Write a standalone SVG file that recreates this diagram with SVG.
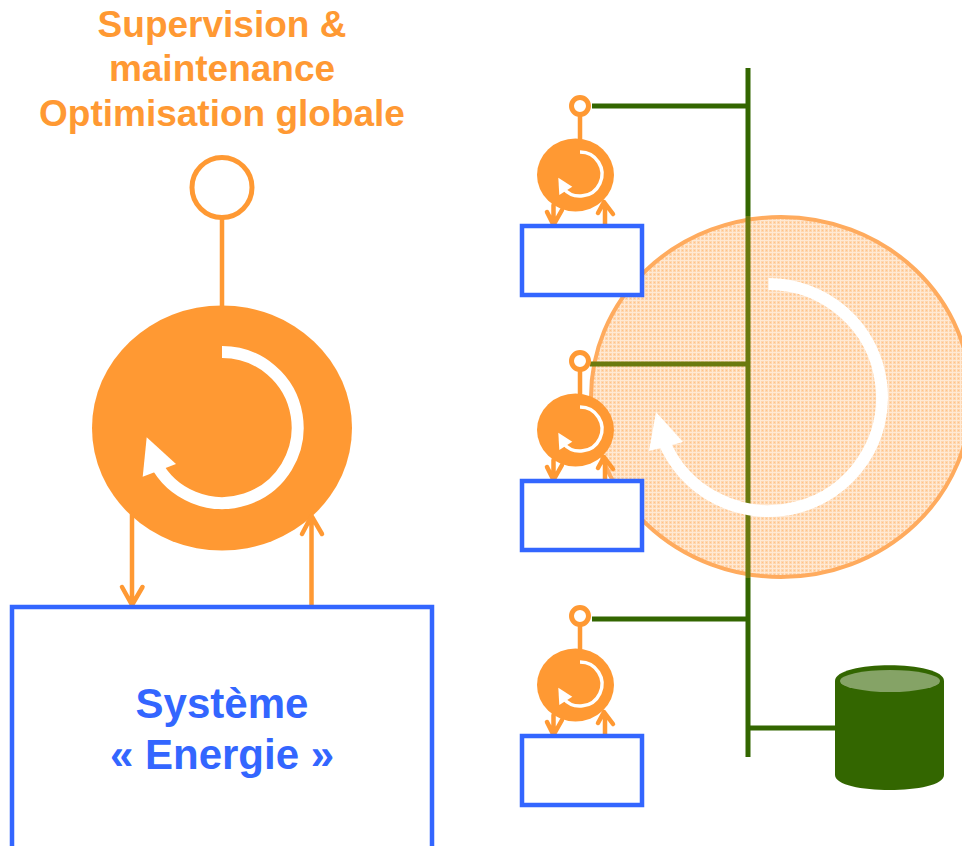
<svg xmlns="http://www.w3.org/2000/svg" width="962" height="846" viewBox="0 0 962 846">
<style>
.t{font-family:"Liberation Sans",Arial,sans-serif;font-weight:bold;text-anchor:middle}
.or{fill:#FF9933}.bl{fill:#3366FF}
.box{fill:#fff;stroke:#3366FF;stroke-width:4.500}
.ol{fill:none;stroke:#FF9933;stroke-width:4.500;stroke-linecap:round;stroke-linejoin:round}
.gr{fill:none;stroke:#336600;stroke-width:5}
.ov{fill:none;stroke:#6B7A0F;stroke-width:5}
</style>
<defs>
<pattern id="dots" width="4" height="4" patternUnits="userSpaceOnUse">
<rect width="4" height="4" fill="#FFD6AE"/>
<rect x="0" y="0" width="4" height="1" fill="#FFE9D4"/>
<rect x="0" y="0" width="1" height="4" fill="#FFE9D4"/>
<rect x="2" y="2" width="1" height="1" fill="#FFC288"/>
</pattern>
<g id="ctrl">
<path class="ol" d="M580 115V140" stroke-width="5"/>
<circle cx="580" cy="106" r="8.500" fill="#fff" stroke="#FF9933" stroke-width="5"/>
<ellipse cx="575.500" cy="175" rx="38.500" ry="36.500" fill="#FF9933"/>
<path d="M580 152A22 22 0 1 1 563 188" fill="none" stroke="#fff" stroke-width="3.500"/>
<path d="M558.300 177.700L559.300 195L572.300 186.700Z" fill="#fff"/>
<path class="ol" stroke-width="5" d="M553.500 205V224M547 212L553.500 225L562 210"/>
<path class="ol" stroke-width="5" stroke-linecap="butt" d="M605 224V204M598 213L604 202L613 214"/>
</g>
</defs>

<g id="cycle-global">
<ellipse cx="781" cy="397" rx="190" ry="180" fill="url(#dots)" stroke="#FFAB5E" stroke-width="4"/>
</g>

<g id="connectors">
<path class="gr" d="M592 106H748M592 619H748M750 728H836"/>
<path class="gr" stroke-width="4.500" d="M748 68V216M748 578V757"/>
<path class="ov" stroke-width="4.500" d="M748 216V578"/>
<path class="ov" d="M590 364H750"/>
</g>

<g id="cycle-global-arrow">
<path d="M768.500 284A113.500 113.500 0 1 1 663 439.400" fill="none" stroke="#fff" stroke-width="12"/>
<path d="M656 412L649 451L683 442Z" fill="#fff"/>
</g>

<g id="supervision-title">
<text class="t or" font-size="37" x="222" y="37">Supervision &amp;</text>
<text class="t or" font-size="37" x="222" y="81">maintenance</text>
<text class="t or" font-size="37" x="222" y="126">Optimisation globale</text>
</g>

<g id="main-controller">
<path class="ol" d="M222 218V306" stroke-width="5"/>
<circle cx="222" cy="187.500" r="30" fill="#fff" stroke="#FF9933" stroke-width="5"/>
<ellipse cx="222" cy="428" rx="130" ry="122.500" fill="#FF9933"/>
<path d="M222 352A75.500 75.500 0 1 1 155 462" fill="none" stroke="#fff" stroke-width="12"/>
<path d="M146.700 437.300L142.700 476.700L176 464Z" fill="#fff"/>
<path class="ol" d="M132 514V605M122 587L132 605L142.500 587"/>
<path class="ol" stroke-linecap="butt" d="M311.500 607V517M302 534L311.500 516L322 534"/>
</g>

<g id="systeme-energie">
<rect class="box" x="12" y="607" width="420" height="260"/>
<text class="t bl" font-size="42" x="222" y="718">Système</text>
<text class="t bl" font-size="42" x="222" y="769">« Energie »</text>
</g>

<g id="unit-1"><use href="#ctrl"/><rect class="box" x="522" y="226" width="120" height="69"/></g>
<g id="unit-2"><use href="#ctrl" y="255"/><rect class="box" x="522" y="481" width="120" height="69"/></g>
<g id="unit-3"><use href="#ctrl" y="510"/><rect class="box" x="522" y="736" width="120" height="69"/></g>

<g id="database">
<path d="M835 681C835 660 944 660 944 681V775C944 795 835 795 835 775Z" fill="#336600"/>
<ellipse cx="890" cy="681" rx="50" ry="11" fill="#85A366"/>
</g>
</svg>
